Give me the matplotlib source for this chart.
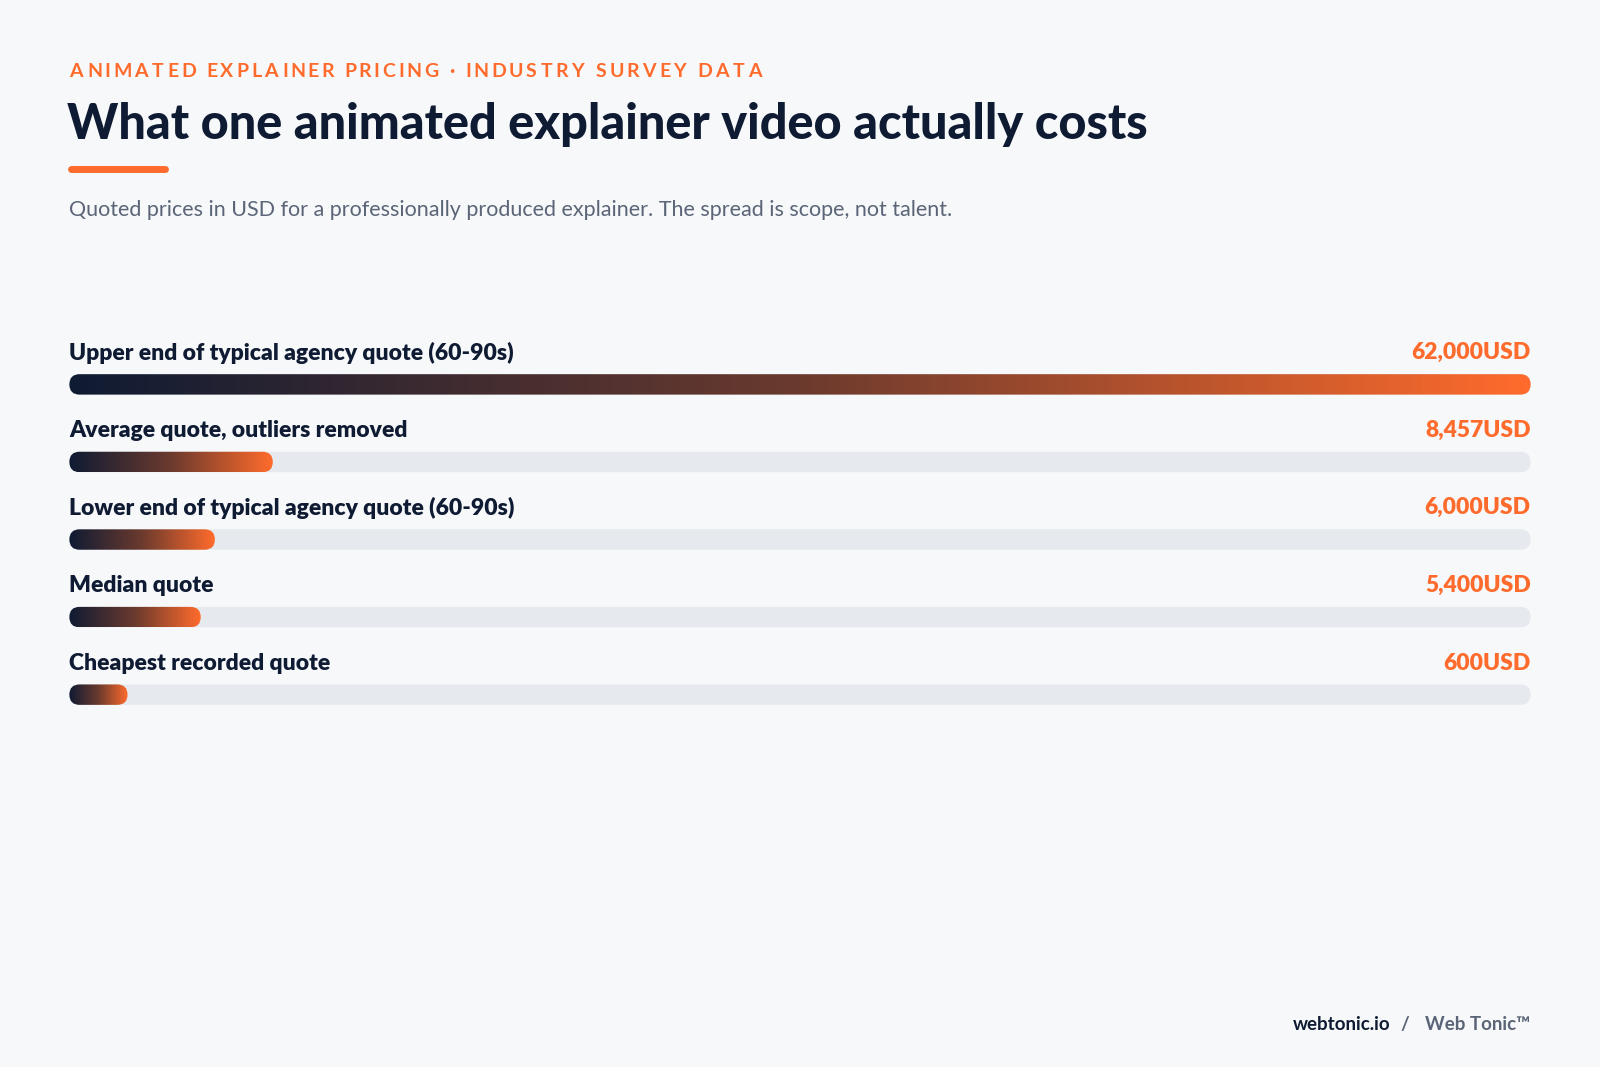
import matplotlib
matplotlib.use("Agg")
import matplotlib.pyplot as plt
import numpy as np
from matplotlib.patches import FancyBboxPatch
from matplotlib.colors import LinearSegmentedColormap
from matplotlib.textpath import TextPath
from matplotlib.font_manager import FontProperties

labels = ["Upper end of typical agency quote (60-90s)", "Average quote, outliers removed",
          "Lower end of typical agency quote (60-90s)", "Median quote", "Cheapest recorded quote"]
values = [62000, 8457, 6000, 5400, 600]
value_texts = ["62,000USD", "8,457USD", "6,000USD", "5,400USD", "600USD"]

BG = "#f6f8fa"; NAVY = "#0f1b33"; ORANGE = "#ff6b2c"; TRACK = "#e6e9ee"; GREY = "#5b6577"
plt.rcParams['font.family'] = ['Lato', 'DejaVu Sans']
W, H = 1568, 1046
fig = plt.figure(figsize=(16, 10.67), dpi=100, facecolor=BG)
fx = lambda x: x / W
fy = lambda y: 1 - y / H

kicker = "ANIMATED EXPLAINER PRICING · INDUSTRY SURVEY DATA"
fp = FontProperties(family='Lato', weight='bold', size=14)
x = 68.0
scale = W / 1600.0
bar_w = TextPath((0, 0), "|", prop=fp).get_extents().width
for ch in kicker:
    fig.text(fx(x), fy(70), ch, color=ORANGE, fontproperties=fp, va='center')
    if ch == " ":
        wpt = 14 * 0.25
    else:
        wpt = TextPath((0, 0), ch + "|", prop=fp).get_extents().width - bar_w
    x += (wpt * 100 / 72) * scale + 2.5

fig.text(fx(66), fy(122), "What one animated explainer video actually costs", color=NAVY,
         fontsize=35, fontweight='black', va='center')
fig.add_artist(plt.Line2D([fx(70), fx(162)], [fy(166), fy(166)], color=ORANGE, lw=5, solid_capstyle='round'))
fig.text(fx(68), fy(206), "Quoted prices in USD for a professionally produced explainer. The spread is scope, not talent.",
         color=GREY, fontsize=15.5, va='center')
fig.text(fx(1363), fy(1004), "webtonic.io", color=NAVY, fontsize=13.5, fontweight='bold', va='center', ha='right')
fig.text(fx(1377), fy(1004), "/", color=GREY, fontsize=13.5, fontweight='bold', va='center', ha='center')
fig.text(fx(1500), fy(1004), "Web Tonic™", color=GREY, fontsize=13.5, fontweight='bold', va='center', ha='right')

top, bot = 316, 719
ax = fig.add_axes([fx(68), fy(bot), fx(1500) - fx(68), (bot - top) / H])
xmax = max(values)
ax.set_xlim(0, xmax); ax.set_ylim(4.5, -0.8); ax.axis('off')
px_x = xmax / 1432.0
bh = 20 / 76.0
r = 10 * px_x
aspect = (bh / 2) / r
cmap = LinearSegmentedColormap.from_list("g", [NAVY, "#6b3a2e", ORANGE])
grad = np.linspace(0, 1, 256)[None, :]
for i, (lab, v, vt) in enumerate(zip(labels, values, value_texts)):
    track = FancyBboxPatch((0, i - bh / 2), xmax, bh, boxstyle=f"round,pad=0,rounding_size={r}",
                           mutation_aspect=aspect, fc=TRACK, ec='none')
    ax.add_patch(track)
    w = min(max(v + 4 * px_x, 57 * px_x), xmax)
    bar = FancyBboxPatch((0, i - bh / 2), w, bh, boxstyle=f"round,pad=0,rounding_size={r}",
                         mutation_aspect=aspect, fc='none', ec='none')
    ax.add_patch(bar)
    im = ax.imshow(grad, extent=(0, w, i + bh / 2, i - bh / 2), cmap=cmap, aspect='auto', zorder=2)
    im.set_clip_path(bar)
    ax.text(0, i - 31 / 76, lab, color=NAVY, fontsize=16.5, fontweight='heavy', va='center', ha='left')
    ax.text(xmax, i - 31 / 76, vt, color=ORANGE, fontsize=16.5, fontweight='heavy', va='center', ha='right')
ax.set_xlim(0, xmax); ax.set_ylim(4.5, -0.8)
fig.savefig("out.png", dpi=100, facecolor=BG)
